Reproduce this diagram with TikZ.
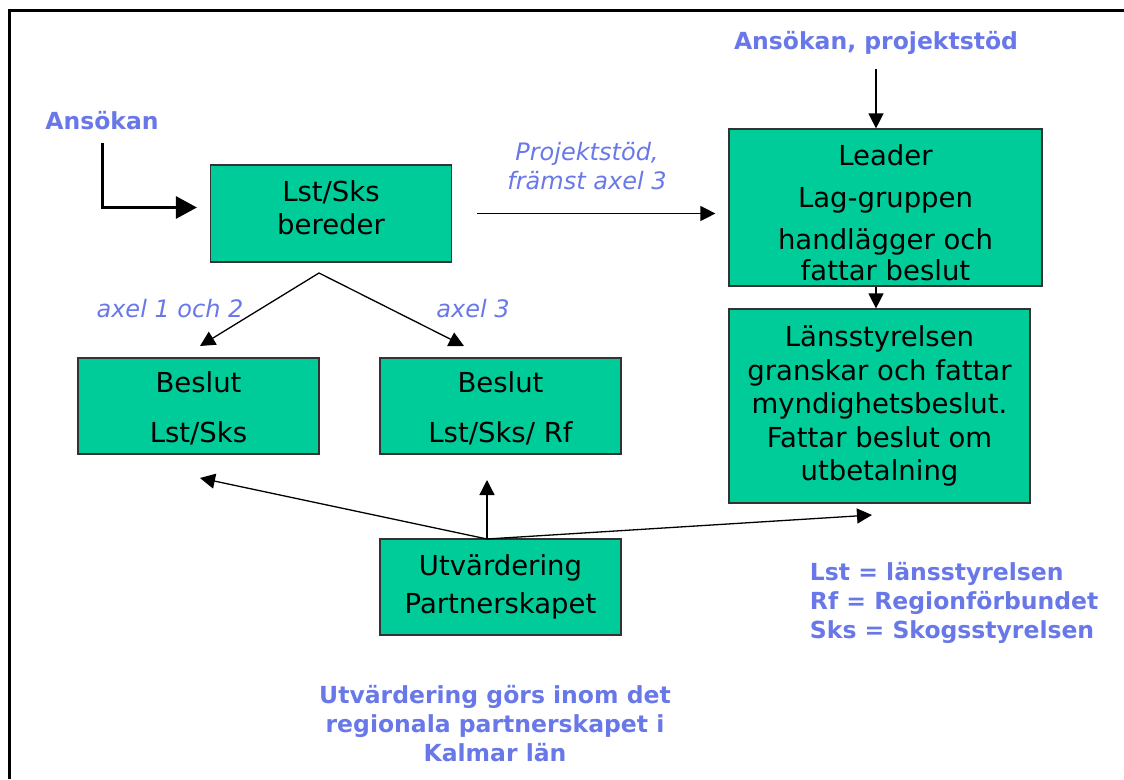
\documentclass[tikz,border=0pt]{standalone}
\usepackage{fontspec}
\setmainfont{DejaVu Sans}
\usetikzlibrary{arrows.meta}
\definecolor{boxgreen}{RGB}{0,204,153}
\definecolor{lblue}{RGB}{105,120,232}
\tikzset{
  box/.style={draw=black!80,line width=1.2pt,fill=boxgreen,align=center,inner sep=0pt,
    font=\fontsize{27.5}{33.5}\selectfont},
  blu/.style={text=lblue,align=center,font=\bfseries\fontsize{23.5}{29}\selectfont},
  ital/.style={text=lblue,align=center,font=\itshape\fontsize{24}{29}\selectfont},
  >={Triangle[length=15pt,width=15pt]},
}
\begin{document}
\begin{tikzpicture}[x=1pt,y=-1pt,line width=1.3pt]
\useasboundingbox (0,0) rectangle (1124,779);
% 枠
\draw[line width=3pt] (9.5,779) -- (9.5,10) -- (1124,10);
% ボックス
\node[box,minimum width=241pt,minimum height=97pt] (bereder) at (331,213.5)
  {Lst/Sks\\bereder\rule[-12pt]{0pt}{12pt}};
\node[box,minimum width=313pt,minimum height=157pt] (leader) at (885.5,207.5)
  {\rule{0pt}{31pt}Leader\\[9pt]Lag-gruppen\\[8pt]handlägger och\\[-2pt]fattar beslut};
\node[box,minimum width=301pt,minimum height=194pt] (laens) at (879.5,406)
  {Länsstyrelsen\\granskar och fattar\\myndighetsbeslut.\\Fattar beslut om\\utbetalning};
\node[box,minimum width=241pt,minimum height=96pt] (beslutA) at (198.5,406)
  {\rule{0pt}{26pt}Beslut\\[16pt]Lst/Sks};
\node[box,minimum width=241pt,minimum height=96pt] (beslutB) at (500.5,406)
  {\rule{0pt}{26pt}Beslut\\[16pt]Lst/Sks/ Rf};
\node[box,minimum width=241pt,minimum height=96pt] (utv) at (500.5,587)
  {Utvärdering\\[4pt]Partnerskapet};
% テキスト
\node[blu] (ansokan) at (102,121) {Ansökan};
\node[blu] (ansproj) at (876,43) {Ansökan, projektstöd};
\node[ital] (projlbl) at (587,166) {Projektstöd,\\främst axel 3};
\node[ital] (axA) at (170,309) {axel 1 och 2};
\node[ital] (axB) at (473,309) {axel 3};
\node[blu,align=left,anchor=west] (legend) at (806,603)
  {Lst = länsstyrelsen\\Rf = Regionförbundet\\Sks = Skogsstyrelsen};
\node[blu] (note) at (495,724) {Utvärdering görs inom det\\regionala partnerskapet i\\Kalmar län};
% 矢印
\draw[line width=3pt,-{Triangle[length=21pt,width=22pt]},shorten <=9pt,shorten >=13pt]
  (ansokan.south) |- ([yshift=6pt]bereder.west);
\draw[->,shorten <=25pt,shorten >=13pt] (bereder.east) -- (bereder.east -| leader.west);
\draw[->,shorten <=10pt] (ansproj.south) -- (ansproj.south |- leader.north);
\draw[->] (ansproj.south |- leader.south) -- (ansproj.south |- laens.north);
% 分岐
\coordinate (split) at (319,273);
\coordinate (tipA) at (200,346);
\coordinate (tipB) at (464,346);
\draw[<->] (tipA) -- (split) -- (tipB);
% 評価
\coordinate (utvtop) at (487,539);
\coordinate (tipC) at (200,478);
\coordinate (tipD) at (487,480);
\coordinate (tipE) at (872,515);
\draw[->] (utvtop) -- (tipC);
\draw[->] (utvtop) -- (tipD);
\draw[->] (utvtop) -- (tipE);
\end{tikzpicture}
\end{document}
